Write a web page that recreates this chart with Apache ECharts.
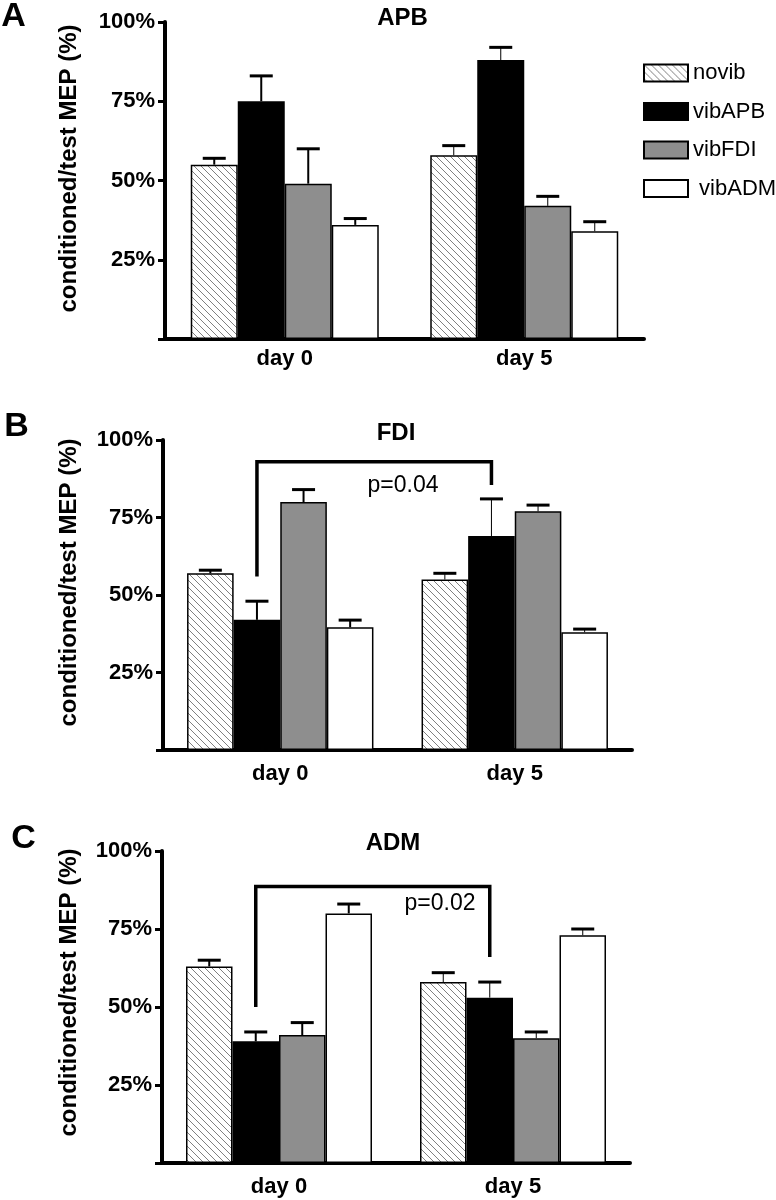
<!DOCTYPE html>
<html>
<head>
<meta charset="utf-8">
<script src="https://cdn.jsdelivr.net/npm/echarts@6/dist/echarts.min.js"></script>
<style>
html,body{margin:0;padding:0;background:#fff;}
#c{width:776px;height:1200px;}
</style>
</head>
<body>
<div id="c"></div>
<script>
// ---- data ----
const categories = ['day 0', 'day 5'];
const seriesNames = ['novib', 'vibAPB', 'vibFDI', 'vibADM'];
const panelTitles = ['APB', 'FDI', 'ADM'];
const panelLetters = ['A', 'B', 'C'];
const yName = 'conditioned/test MEP (%)';
const yMin = 0, yMax = 100, yStep = 25;

// means per series (rows: novib, vibAPB, vibFDI, vibADM; cols: day 0, day 5)
const apbMeans = [[55, 58], [75, 88], [49, 42], [36, 34]];
const apbErrs  = [[2, 3], [8, 4], [11, 3], [2, 3]];
const fdiMeans = [[57, 55], [42, 69], [80, 77], [39.6, 38]];
const fdiErrs  = [[1, 2], [6, 12], [4, 2], [2.3, 1]];
const admMeans = [[63, 58], [39, 53], [41, 40], [80, 73]];
const admErrs  = [[2, 3], [3, 5], [4, 2], [3, 2]];

// significance brackets: [left leg bottom, bracket top, right leg bottom] (in %)
const fdiBracket = [56, 93, 85.5];
const admBracket = [50, 88.6, 66];
const pLabels = ['p=0.04', 'p=0.02'];

// ---- styling / layout ----
const FONT = '"Liberation Sans", Arial, Helvetica, sans-serif';
function hatch() {
  const s = 7;
  const c = document.createElement('canvas');
  c.width = s; c.height = s;
  const g = c.getContext('2d');
  g.fillStyle = '#fff'; g.fillRect(0, 0, s, s);
  g.strokeStyle = '#808080'; g.lineWidth = 1;
  g.beginPath();
  g.moveTo(-1, -1); g.lineTo(s + 1, s + 1);
  g.moveTo(-1, s - 1); g.lineTo(1, s + 1);
  g.moveTo(s - 1, -1); g.lineTo(s + 1, 1);
  g.stroke();
  return c;
}
const fills = [{ image: hatch(), repeat: 'repeat' }, '#000000', '#8e8e8e', '#ffffff'];

const grids = [
  { left: 165, top: 22, width: 479, height: 317 },
  { left: 163, top: 440, width: 469, height: 310 },
  { left: 162, top: 851, width: 468, height: 312 }
];
const barW = [47, 46.6, 46.5];
const labelMargins = [9, 13, 13];
const panels = [
  { means: apbMeans, errs: apbErrs, bracket: null },
  { means: fdiMeans, errs: fdiErrs, bracket: fdiBracket },
  { means: admMeans, errs: admErrs, bracket: admBracket }
];

const xAxes = [], yAxes = [], series = [];
panels.forEach((p, pi) => {
  xAxes.push({
    gridIndex: pi, type: 'category', data: categories,
    axisLine: { lineStyle: { color: '#000', width: 4 } },
    axisTick: { show: false },
    axisLabel: { fontSize: 22, fontWeight: 'bold', color: '#000', fontFamily: FONT, margin: labelMargins[pi] }
  });
  yAxes.push({
    gridIndex: pi, type: 'value', min: yMin, max: yMax, interval: yStep,
    splitLine: { show: false },
    axisLine: { show: true, lineStyle: { color: '#000', width: 4 } },
    axisTick: { show: true, length: 7, lineStyle: { color: '#000', width: 3 } },
    axisLabel: {
      formatter: v => (v === 0 ? '' : v + '%'),
      fontSize: 22, fontWeight: 'bold', color: '#000', fontFamily: FONT, margin: 10
    }
  });
  p.means.forEach((m, si) => {
    series.push({
      type: 'bar', name: seriesNames[si], xAxisIndex: pi, yAxisIndex: pi,
      data: m, barWidth: barW[pi], barGap: '0%',
      itemStyle: { color: fills[si], borderColor: '#000', borderWidth: 1.5 },
      emphasis: { disabled: true }, silent: true, z: 2
    });
  });
  p.means.forEach((m, si) => {
    const off = (si - 1.5) * barW[pi];
    series.push({
      type: 'custom', xAxisIndex: pi, yAxisIndex: pi, silent: true, z: 5,
      data: m.map((v, i) => [i, v, v + p.errs[si][i]]),
      renderItem: (params, api) => {
        const i = api.value(0);
        const b = api.coord([i, api.value(1)]);
        const t = api.coord([i, api.value(2)]);
        const x = b[0] + off;
        return {
          type: 'group', children: [
            { type: 'line', shape: { x1: x, y1: b[1], x2: x, y2: t[1] }, style: { stroke: '#000', lineWidth: i === 0 ? 2 : 1 } },
            { type: 'line', shape: { x1: x - 11.5, y1: t[1], x2: x + 11.5, y2: t[1] }, style: { stroke: '#000', lineWidth: 3 } }
          ]
        };
      }
    });
  });
  if (p.bracket) {
    const off = (1 - 1.5) * barW[pi];
    series.push({
      type: 'custom', xAxisIndex: pi, yAxisIndex: pi, silent: true, z: 6,
      data: [[0, p.bracket[0], p.bracket[1], p.bracket[2]]],
      renderItem: (params, api) => {
        const tl = api.coord([0, api.value(2)]);
        const tr = api.coord([1, api.value(2)]);
        const yl = api.coord([0, api.value(1)])[1];
        const yr = api.coord([1, api.value(3)])[1];
        const xl = tl[0] + off, xr = tr[0] + off;
        return {
          type: 'polyline',
          shape: { points: [[xl, yl], [xl, tl[1]], [xr, tr[1]], [xr, yr]] },
          style: { stroke: '#000', lineWidth: 3.5, fill: null }
        };
      }
    });
  }
});

const letterPos = [[13.5, 16.5], [16.5, 426.5], [23.5, 839]];
const titlePos = [[402.5, 18.5], [396, 433], [393, 843]];
const namePos = [[69, 168.5], [69, 582.5], [69, 992.5]];
const pPos = [[403, 486], [440, 904]];

const graphic = [];
for (let i = 0; i < 3; i++) {
  graphic.push({ type: 'text', x: letterPos[i][0], y: letterPos[i][1], style: { text: panelLetters[i], font: 'bold 34px ' + FONT, fill: '#000', textAlign: 'center', textVerticalAlign: 'middle' } });
  graphic.push({ type: 'text', x: titlePos[i][0], y: titlePos[i][1], style: { text: panelTitles[i], font: 'bold 24px ' + FONT, fill: '#000', textAlign: 'center', textVerticalAlign: 'middle' } });
  graphic.push({ type: 'text', x: namePos[i][0], y: namePos[i][1], rotation: Math.PI / 2, style: { text: yName, font: 'bold 24px ' + FONT, fill: '#000', textAlign: 'center', textVerticalAlign: 'middle' } });
}
pLabels.forEach((t, i) => {
  graphic.push({ type: 'text', x: pPos[i][0], y: pPos[i][1], style: { text: t, font: '23px ' + FONT, fill: '#000', textAlign: 'center', textVerticalAlign: 'middle' } });
});

const chart = echarts.init(document.getElementById('c'), null, { renderer: 'canvas' });
chart.setOption({
  animation: false,
  backgroundColor: '#fff',
  grid: grids,
  xAxis: xAxes,
  yAxis: yAxes,
  legend: {
    orient: 'vertical', left: 638, top: 57,
    itemWidth: 44, itemHeight: 17, itemGap: 16.5,
    icon: 'rect', selectedMode: false,
    data: seriesNames,
    formatter: n => (n === 'vibADM' ? ' ' + n : n),
    textStyle: { fontSize: 22, lineHeight: 17, color: '#000', fontFamily: FONT }
  },
  graphic: graphic,
  series: series
});
</script>
</body>
</html>
